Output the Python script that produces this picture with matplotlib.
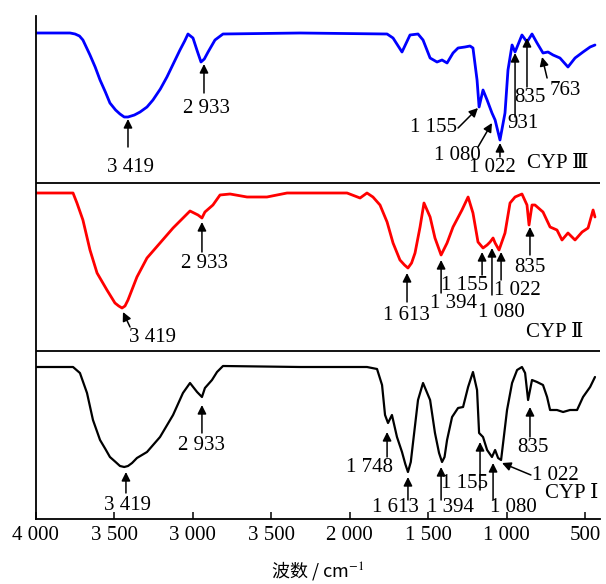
import matplotlib
matplotlib.use("Agg")
import matplotlib.pyplot as plt

plt.rcParams['mathtext.fontset'] = 'stix'
SERIF = ['Liberation Serif', 'DejaVu Serif', 'Noto Sans CJK SC']

# ---- data (wavenumber in cm-1, transmittance in offset arbitrary units) ----
wn_cyp3 = [4000, 3780, 3748, 3720, 3698, 3653, 3620, 3589, 3555, 3526, 3490, 3462, 3435, 3411,
           3370, 3334, 3290, 3252, 3205, 3163, 3120, 3080, 3050, 3029, 2997,
           2970, 2946, 2925, 2901, 2857, 2806, 2315, 1761, 1723, 1666, 1615, 1564, 1532, 1487, 1443, 1411,
           1379, 1341, 1309, 1265, 1233, 1214, 1188, 1175, 1150, 1124, 1093, 1073, 1042, 1010,
           991, 965, 946, 902, 870, 838, 806, 768, 736, 704, 660, 609, 564, 513, 468, 437]
t_cyp3 = [486, 486, 485, 483, 479, 464, 452, 439, 427, 416, 409, 405, 402, 402,
          404, 407, 412, 419, 430, 442, 456, 469, 478, 485, 481,
          468, 457, 460, 467, 479, 485, 486, 485, 481, 467, 484, 485, 479, 461, 457, 459,
          456, 466, 471, 472, 473, 471, 439, 412, 429, 419, 406, 399, 379, 406,
          449, 474, 467, 484, 477, 485, 476, 466, 467, 464, 461, 452, 461, 467, 472, 474]

wn_cyp2 = [4000, 3761, 3736, 3698, 3653, 3608, 3545, 3494, 3470, 3449, 3430, 3411, 3354, 3290, 3207, 3124,
           3016, 2965, 2940, 2921, 2870, 2825, 2761, 2653, 2526, 2398, 2016, 1933, 1889, 1851,
           1806, 1761, 1723, 1679, 1650, 1628, 1605, 1583, 1551, 1526, 1487, 1456, 1417, 1379, 1341, 1284,
           1245, 1214, 1182, 1150, 1124, 1105, 1086, 1073, 1048, 1010, 978, 946, 902, 870,
           857, 838, 819, 768, 723, 679, 647, 609, 564, 519, 481, 449, 437]
t_cyp2 = [326, 326, 316, 299, 269, 246, 229, 216, 213, 211, 213, 219, 242, 261, 276, 291,
          308, 304, 301, 307, 314, 324, 325, 322, 322, 326, 326, 321, 326, 322,
          314, 297, 276, 259, 254, 251, 256, 266, 292, 316, 302, 281, 264, 276, 292, 309,
          322, 306, 277, 271, 274, 277, 281, 276, 269, 286, 316, 322, 325, 314,
          294, 314, 314, 307, 292, 289, 279, 286, 279, 287, 291, 309, 302]

wn_cyp1 = [4000, 3761, 3717, 3672, 3634, 3589, 3555, 3526, 3490, 3462, 3435, 3411, 3385, 3354, 3290, 3207, 3124, 3061,
           3016, 2971, 2940, 2921, 2876, 2844, 2806, 2315, 1889, 1825, 1793, 1774, 1755, 1730,
           1698, 1666, 1645, 1628, 1610, 1596, 1564, 1532, 1487, 1456, 1430, 1411, 1395, 1379, 1347, 1309, 1277, 1245,
           1214, 1188, 1175, 1150, 1124, 1093, 1073, 1054, 1035, 1022, 997, 965, 933, 902,
           882, 863, 838, 806, 768, 742, 723, 679, 640, 596, 551, 513, 468, 437]
t_cyp1 = [152, 152, 146, 126, 99, 79, 70, 62, 57, 53, 52, 53, 56, 61, 67, 82, 104, 126,
          136, 127, 122, 131, 139, 147, 153, 152, 152, 150, 134, 104, 96, 104,
          82, 67, 55, 47, 57, 76, 119, 136, 119, 86, 66, 57, 62, 79, 102, 111, 112, 132,
          147, 129, 86, 82, 69, 62, 69, 61, 59, 76, 109, 136, 149, 152,
          146, 119, 139, 137, 134, 122, 109, 109, 107, 109, 109, 122, 132, 142]

series_names = ["CYP Ⅲ", "CYP Ⅱ", "CYP Ⅰ"]
series_colors = ["#0000ff", "#ff0000", "#000000"]

tick_values = [4000, 3500, 3000, 2500, 2000, 1500, 1000, 500]
tick_labels = ["4 000", "3 500", "3 000", "3 500", "2 000", "1 500", "1 000", "500"]

panel_edges = [168, 336]

# annotations: (label, arrow tail (wn, y), arrow tip (wn, y), text (wn, y), ha)
ann_cyp3 = [
    ("3 419", (3411, 372), (3411, 400), (3398, 352), 'center'),
    ("2 933", (2927, 426), (2927, 455), (2908, 411), 'center'),
    ("1 155", (1309, 391), (1182, 411), (1316, 392), 'right'),
    ("1 080", (1182, 372), (1093, 396), (1316, 364), 'center'),
    ("1 022", (1042, 362), (1042, 376), (1093, 352), 'center'),
    ("931", (946, 402), (946, 466), (895, 396), 'center'),
    ("835", (870, 432), (870, 481), (851, 422), 'center'),
    ("763", (742, 441), (774, 462), (628, 429), 'center'),
]
ann_cyp2 = [
    ("3 419", (3398, 192), (3443, 207), (3258, 182), 'center'),
    ("2 933", (2940, 267), (2940, 297), (2921, 256), 'center'),
    ("1 613", (1634, 217), (1634, 246), (1637, 204), 'center'),
    ("1 394", (1417, 226), (1417, 259), (1341, 216), 'center'),
    ("1 155", (1156, 244), (1156, 267), (1271, 234), 'center'),
    ("1 080", (1093, 224), (1093, 271), (1035, 207), 'center'),
    ("1 022", (1035, 239), (1035, 267), (933, 229), 'center'),
    ("835", (851, 264), (851, 292), (851, 252), 'center'),
]
ann_cyp1 = [
    ("3 419", (3424, 26), (3424, 47), (3417, 14), 'center'),
    ("2 933", (2940, 86), (2940, 114), (2940, 74), 'center'),
    ("1 748", (1761, 62), (1761, 87), (1876, 51), 'center'),
    ("1 613", (1628, 19), (1628, 42), (1710, 12), 'center'),
    ("1 394", (1417, 19), (1417, 52), (1354, 12), 'center'),
    ("1 155", (1169, 29), (1169, 77), (1265, 36), 'center'),
    ("1 080", (1086, 19), (1086, 56), (959, 12), 'center'),
    ("1 022", (845, 44), (1029, 56), (838, 44), 'left'),
    ("835", (851, 82), (851, 112), (832, 72), 'center'),
]
label_pos = [(672, 356), (691, 187), (583, 25)]

fig = plt.figure(figsize=(6.06, 5.84), dpi=100)
ax = fig.add_axes([35.5 / 606, (584 - 519) / 584, (600 - 35.5) / 606, (519 - 16) / 584])

for wn, t, c in zip([wn_cyp3, wn_cyp2, wn_cyp1], [t_cyp3, t_cyp2, t_cyp1], series_colors):
    ax.plot(wn, t, color=c, lw=2.0 if c != "#000000" else 1.6,
            solid_joinstyle='round', solid_capstyle='round')

for e in panel_edges:
    ax.axhline(e, color='black', lw=1.3)

for anns in (ann_cyp3, ann_cyp2, ann_cyp1):
    for label, tail, tip, tpos, ha in anns:
        ax.annotate('', xy=tip, xytext=tail,
                    arrowprops=dict(arrowstyle='-|>', color='black', lw=1.1,
                                    mutation_scale=13, shrinkA=0, shrinkB=0))
        ax.text(tpos[0], tpos[1], label, ha=ha, va='center', fontsize=15, family=SERIF)

for name, pos in zip(series_names, label_pos):
    ax.text(pos[0], pos[1], name, ha='center', va='center', fontsize=15, family=SERIF)

ax.set_xlim(4000, 405)
ax.set_ylim(0, 503)
ax.set_xticks(tick_values)
ax.set_xticklabels(tick_labels, fontsize=15, family=SERIF)
ax.tick_params(axis='x', direction='in', length=5, width=1.1, pad=5)
ax.set_yticks([])
for s in ('top', 'right'):
    ax.spines[s].set_visible(False)
for s in ('left', 'bottom'):
    ax.spines[s].set_linewidth(1.3)

ax.set_xlabel("波数 / cm$^{-1}$", fontsize=13, family=['Noto Sans CJK SC', 'DejaVu Sans'], labelpad=10)

fig.savefig("out.png", dpi=100)
